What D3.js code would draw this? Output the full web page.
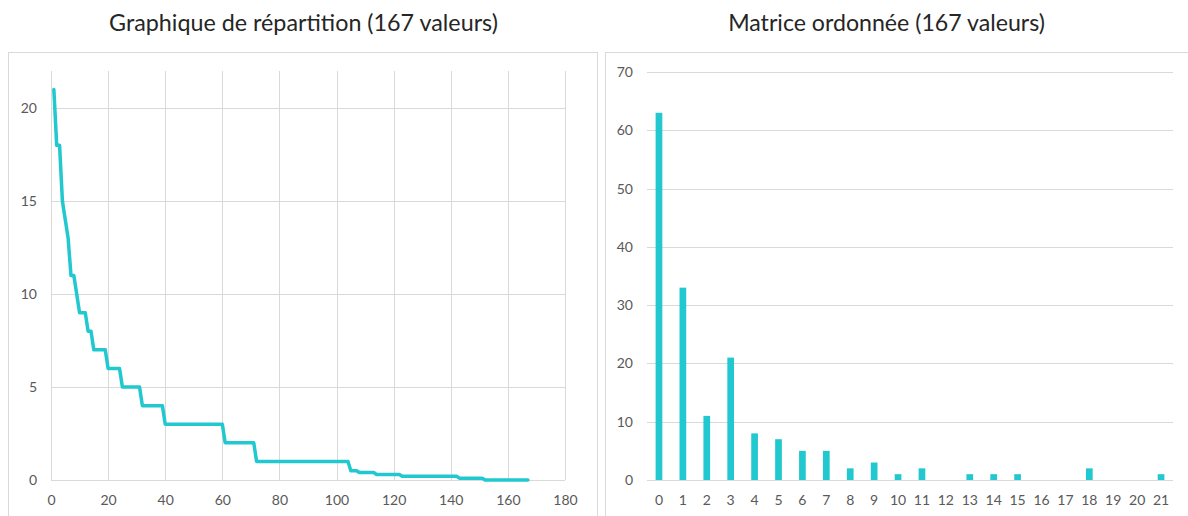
<!DOCTYPE html>
<html>
<head>
<meta charset="utf-8">
<script src="https://cdn.jsdelivr.net/npm/d3@7"></script>
<style>
  html, body { margin: 0; padding: 0; background: #ffffff; }
  svg { display: block; }
  text { font-family: Lato, "Open Sans", sans-serif; }
</style>
</head>
<body>
<svg id="chart" width="1188" height="516"></svg>
<script>
// ---- Data ----
const leftTitle = "Graphique de répartition (167 valeurs)";
const rightTitle = "Matrice ordonnée (167 valeurs)";

// Sorted values (descending), index 1..167, as runs [value, count]
const sortedRunValues = [21, 18, 15, 14, 13, 11, 10, 9, 8, 7, 6, 5, 4, 3, 2, 1, 0.5, 0.4, 0.3, 0.2, 0.1, 0];
const sortedRunCounts = [1, 2, 1, 1, 1, 2, 1, 3, 2, 5, 5, 7, 8, 21, 11, 33, 3, 6, 9, 20, 9, 16];

const leftXTicks = [0, 20, 40, 60, 80, 100, 120, 140, 160, 180];
const leftYTicks = [0, 5, 10, 15, 20];

// Ordered matrix (histogram of integer parts)
const categories = ["0","1","2","3","4","5","6","7","8","9","10","11","12","13","14","15","16","17","18","19","20","21"];
const counts = [63, 33, 11, 21, 8, 7, 5, 5, 2, 3, 1, 2, 0, 1, 1, 1, 0, 0, 2, 0, 0, 1];
const rightYTicks = [0, 10, 20, 30, 40, 50, 60, 70];

// ---- Build series ----
const sortedValues = [];
sortedRunValues.forEach((v, i) => { for (let k = 0; k < sortedRunCounts[i]; k++) sortedValues.push(v); });
const points = sortedValues.map((v, i) => ({ x: i + 1, y: v }));

const svg = d3.select("#chart");
const color = "#22C8CF";
const gridColor = "#d9d9d9";
const textColor = "#595959";
const fontFam = "Lato, 'Open Sans', sans-serif";

// Panels
svg.append("rect").attr("x", 8.5).attr("y", 52.5).attr("width", 589).attr("height", 480)
  .attr("fill", "none").attr("stroke", gridColor);
svg.append("rect").attr("x", 605.5).attr("y", 52.5).attr("width", 600).attr("height", 480)
  .attr("fill", "none").attr("stroke", gridColor);

// Titles (fit to the reference width)
function title(txt, cx, targetW) {
  const t = svg.append("text").attr("x", cx).attr("y", 31).attr("text-anchor", "middle")
    .attr("font-size", 20).attr("fill", "#262626").attr("font-family", fontFam).text(txt);
  const w = t.node().getComputedTextLength();
  if (w > 0) t.attr("font-size", 20 * targetW / w);
}
title(leftTitle, 303.5, 389);
title(rightTitle, 886.5, 317);

// ---- Left chart ----
const lx = d3.scaleLinear().domain([0, 180]).range([51, 565]);
const ly = d3.scaleLinear().domain([0, 22]).range([480, 71]);

const gL = svg.append("g");
gL.append("g").selectAll("line").data(leftYTicks).join("line")
  .attr("x1", lx(0)).attr("x2", lx(180))
  .attr("y1", d => Math.round(ly(d)) + 0.5).attr("y2", d => Math.round(ly(d)) + 0.5)
  .attr("stroke", gridColor);
gL.append("g").selectAll("line").data(leftXTicks).join("line")
  .attr("x1", d => Math.round(lx(d)) + 0.5).attr("x2", d => Math.round(lx(d)) + 0.5)
  .attr("y1", ly(0)).attr("y2", ly(22))
  .attr("stroke", gridColor);

const lxAxis = d3.axisBottom(lx).tickValues(leftXTicks).tickSize(0).tickPadding(0);
gL.append("g").attr("transform", `translate(0,${ly(0) + 25})`).call(lxAxis)
  .call(g => g.select(".domain").remove())
  .call(g => g.selectAll("text").attr("fill", textColor).attr("font-size", 14).attr("dy", 0)
    .attr("font-family", fontFam));

const lyAxis = d3.axisLeft(ly).tickValues(leftYTicks).tickSize(0).tickPadding(0);
gL.append("g").attr("transform", `translate(37,0)`).call(lyAxis)
  .call(g => g.select(".domain").remove())
  .call(g => g.selectAll("text").attr("fill", textColor).attr("font-size", 14)
    .attr("font-family", fontFam));

const line = d3.line().x(d => lx(d.x)).y(d => ly(d.y));
gL.append("path").datum(points).attr("d", line)
  .attr("fill", "none").attr("stroke", color).attr("stroke-width", 3.5)
  .attr("stroke-linejoin", "round").attr("stroke-linecap", "round");

// ---- Right chart ----
const rx = d3.scaleBand().domain(categories).range([647, 1173]).paddingInner(0.72).paddingOuter(0.36);
const ry = d3.scaleLinear().domain([0, 70]).range([480, 72]);

const gR = svg.append("g");
gR.append("g").selectAll("line").data(rightYTicks).join("line")
  .attr("x1", 647).attr("x2", 1173)
  .attr("y1", d => Math.round(ry(d)) + 0.5).attr("y2", d => Math.round(ry(d)) + 0.5)
  .attr("stroke", gridColor);

gR.append("g").selectAll("rect").data(counts.map((c, i) => ({ c, k: categories[i] }))).join("rect")
  .attr("x", d => rx(d.k)).attr("width", rx.bandwidth())
  .attr("y", d => ry(d.c)).attr("height", d => ry(0) - ry(d.c))
  .attr("fill", color);

const rxAxis = d3.axisBottom(rx).tickSize(0).tickPadding(0);
gR.append("g").attr("transform", `translate(0,${ry(0) + 25})`).call(rxAxis)
  .call(g => g.select(".domain").remove())
  .call(g => g.selectAll("text").attr("fill", textColor).attr("font-size", 14).attr("dy", 0)
    .attr("font-family", fontFam));

const ryAxis = d3.axisLeft(ry).tickValues(rightYTicks).tickSize(0).tickPadding(0);
gR.append("g").attr("transform", `translate(633,0)`).call(ryAxis)
  .call(g => g.select(".domain").remove())
  .call(g => g.selectAll("text").attr("fill", textColor).attr("font-size", 14)
    .attr("font-family", fontFam));
</script>
</body>
</html>
